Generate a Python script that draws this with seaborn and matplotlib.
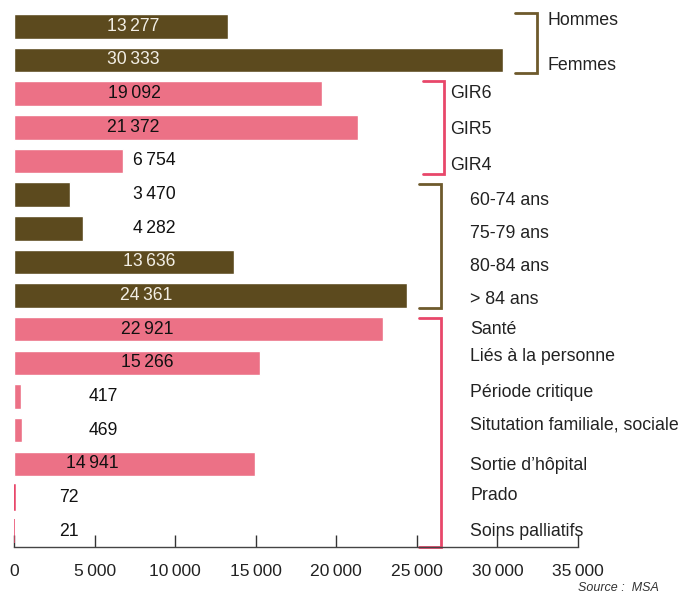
import numpy as np
import pandas as pd
import matplotlib
matplotlib.use('Agg')
import matplotlib.pyplot as plt
import matplotlib.ticker as mticker
import seaborn as sns

# données (source MSA)
categories = ['Hommes', 'Femmes', 'GIR6', 'GIR5', 'GIR4',
              '60-74 ans', '75-79 ans', '80-84 ans', '> 84 ans',
              'Santé', 'Liés à la personne', 'Période critique',
              'Situtation familiale, sociale', 'Sortie d\u2019hôpital', 'Prado', 'Soins palliatifs']
values = [13277, 30333, 19092, 21372, 6754,
          3470, 4282, 13636, 24361,
          22921, 15266, 417, 469, 14941, 72, 21]
groups = ['sexe', 'sexe', 'gir', 'gir', 'gir',
          'age', 'age', 'age', 'age',
          'motif', 'motif', 'motif', 'motif', 'motif', 'motif', 'motif']
x_ticks = [0, 5000, 10000, 15000, 20000, 25000, 30000, 35000]

BROWN = '#5c4a1e'
PINK = '#ec7186'
BROWN_LINE = '#6e5a2c'
PINK_LINE = '#e8476a'
TXT = '#222222'

def fmt(v):
    s = f'{int(v):,}'
    return s.replace(',', '\u2009')

df = pd.DataFrame({'cat': categories, 'val': values, 'grp': groups})
colors = {'sexe': BROWN, 'gir': PINK, 'age': BROWN, 'motif': PINK}
palette = [colors[g] for g in groups]

sns.set_style('white')
plt.rcParams['font.family'] = ['Liberation Sans', 'DejaVu Sans']

fig = plt.figure(figsize=(6.81, 5.95), dpi=100)
ax = fig.add_axes([14 / 681, 48 / 595, 564 / 681, 547 / 595])

sns.barplot(ax=ax, data=df, x='val', y='cat', hue='cat', order=categories,
            palette=palette, legend=False, width=0.73, saturation=1, orient='h')

# les barres très fines restent visibles comme un trait
for p in ax.patches:
    if p.get_width() < 200:
        p.set_edgecolor(PINK_LINE)
        p.set_linewidth(1.1)

ax.set_xlim(0, 35000)
ax.set_ylim(15.47, -0.78)
ax.set_xlabel('')
ax.set_ylabel('')
ax.set_yticks([])
ax.set_xticks(x_ticks)
ax.xaxis.set_major_formatter(mticker.FuncFormatter(lambda v, p: fmt(v)))
ax.tick_params(axis='x', direction='in', length=9, width=1, color='#333333',
               labelsize=12.6, labelcolor=TXT, pad=12, bottom=True)
for s in ['top', 'right', 'left']:
    ax.spines[s].set_visible(False)
ax.spines['bottom'].set_color('#444444')
ax.spines['bottom'].set_linewidth(1)

# étiquettes de valeurs
label_x = [7420, 7420, 7450, 7390, 8690, 8690, 8690, 8380, 8225,
           8256, 8256, 5555, 5555, 4842, 3414, 3383]
for i, (v, g) in enumerate(zip(values, groups)):
    lx = label_x[i]
    inside = v > lx
    col = '#f2eee4' if (inside and colors[g] == BROWN) else '#111111'
    ax.text(lx, i, fmt(v), ha='center', va='center', fontsize=12.7, color=col)

# accolades de regroupement
def bracket(x0, x1, y0, y1, color):
    ax.plot([x0, x1, x1, x0], [y0, y0, y1, y1], color=color, lw=2,
            clip_on=False, solid_joinstyle='miter')

bracket(31090, 32437, -0.39, 1.38, BROWN_LINE)
bracket(25382, 26685, 1.62, 4.38, PINK_LINE)
bracket(25133, 26480, 4.69, 8.38, BROWN_LINE)
bracket(25133, 26480, 8.66, 15.46, PINK_LINE)

group_labels = [(33120, -0.16, 'Hommes'), (33120, 1.17, 'Femmes'),
                (27057, 2.0, 'GIR6'), (27057, 3.08, 'GIR5'), (27057, 4.14, 'GIR4'),
                (28298, 5.19, '60-74 ans'), (28298, 6.15, '75-79 ans'),
                (28298, 7.14, '80-84 ans'), (28298, 8.13, '> 84 ans'),
                (28298, 9.0, 'Santé'), (28298, 9.82, 'Liés à la personne'),
                (28298, 10.88, 'Période critique'), (28298, 11.85, 'Situtation familiale, sociale'),
                (28298, 13.04, 'Sortie d\u2019hôpital'), (28298, 13.93, 'Prado'),
                (28298, 15.02, 'Soins palliatifs')]
for x, y, t in group_labels:
    ax.text(x, y, t, ha='left', va='center', fontsize=12.8, color=TXT, clip_on=False)

fig.text(659 / 681, 1 - 588 / 595, 'Source :  MSA', ha='right', va='center',
         fontsize=9, style='italic', color='#333333')

fig.savefig('out.png', dpi=100)
